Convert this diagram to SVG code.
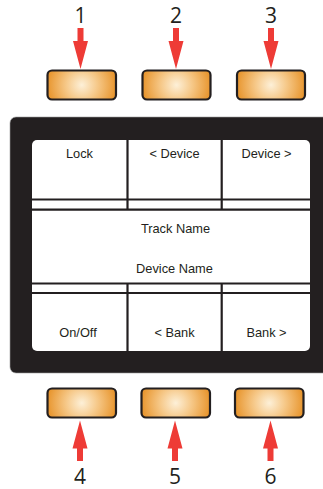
<svg xmlns="http://www.w3.org/2000/svg" width="323" height="489" viewBox="0 0 323 489">
<defs>
<radialGradient id="btnGrad" cx="0.5" cy="0.5" r="0.5" gradientTransform="translate(0.5 0.5) scale(1 2.3) translate(-0.5 -0.5)">
<stop offset="0" stop-color="#fdf0d8"/>
<stop offset="0.45" stop-color="#f6c98a"/>
<stop offset="1" stop-color="#e8962f"/>
</radialGradient>
<style>
.btn{fill:url(#btnGrad);stroke:#231f20;stroke-width:2.2}
.arrow{fill:#ee3b36}
.num{font-family:"Open Sans","Noto Sans",sans-serif;font-size:21px;fill:#231f20;text-anchor:middle}
.lbl{font-family:"Liberation Sans",Arial,sans-serif;font-size:12.8px;fill:#231f20;text-anchor:middle}
.grid{stroke:#231f20;stroke-width:2.2;fill:none}
</style>
</defs>
<rect width="323" height="489" fill="#ffffff"/>
<g id="bezel">
<rect x="10" y="117" width="330" height="256" rx="6" fill="#231f20" stroke="#9a9a9a" stroke-width="0.6"/>
</g>
<g id="screen">
<rect x="32" y="140" width="278" height="211" rx="5" fill="#ffffff"/>
<line class="grid" x1="32" y1="199.5" x2="310" y2="199.5"/>
<line class="grid" x1="32" y1="209.7" x2="310" y2="209.7"/>
<line class="grid" x1="32" y1="283.5" x2="310" y2="283.5"/>
<line class="grid" x1="32" y1="293" x2="310" y2="293"/>
<line class="grid" x1="127.5" y1="140" x2="127.5" y2="209.7"/>
<line class="grid" x1="221.7" y1="140" x2="221.7" y2="209.7"/>
<line class="grid" x1="127.5" y1="283.5" x2="127.5" y2="351"/>
<line class="grid" x1="221.7" y1="283.5" x2="221.7" y2="351"/>
</g>
<g id="label-lock"><text class="lbl" x="79.5" y="157.8">Lock</text></g>
<g id="label-device-prev"><text class="lbl" x="174.5" y="157.8">&lt; Device</text></g>
<g id="label-device-next"><text class="lbl" x="266.5" y="157.8">Device &gt;</text></g>
<g id="label-track-name"><text class="lbl" x="175.5" y="232.7">Track Name</text></g>
<g id="label-device-name"><text class="lbl" x="174.5" y="273.3">Device Name</text></g>
<g id="label-onoff"><text class="lbl" x="78" y="336.7">On/Off</text></g>
<g id="label-bank-prev"><text class="lbl" x="174.5" y="336.7">&lt; Bank</text></g>
<g id="label-bank-next"><text class="lbl" x="266.5" y="336.7">Bank &gt;</text></g>
<g id="button-1"><rect class="btn" x="47.5" y="70.5" width="68.5" height="29" rx="4.5"/></g>
<g id="button-2"><rect class="btn" x="142.5" y="70.5" width="68" height="29" rx="4.5"/></g>
<g id="button-3"><rect class="btn" x="237" y="70.5" width="68" height="29" rx="4.5"/></g>
<g id="button-4"><rect class="btn" x="47.5" y="388.5" width="68.5" height="29" rx="4.5"/></g>
<g id="button-5"><rect class="btn" x="141.5" y="388.5" width="68.5" height="29" rx="4.5"/></g>
<g id="button-6"><rect class="btn" x="235" y="388.5" width="68.5" height="29" rx="4.5"/></g>
<g id="number-1"><text class="num" x="80.5" y="23.3">1</text></g>
<g id="number-2"><text class="num" x="176" y="23.3">2</text></g>
<g id="number-3"><text class="num" x="271" y="23.3">3</text></g>
<g id="number-4"><text class="num" x="80" y="483.5">4</text></g>
<g id="number-5"><text class="num" x="175" y="483.5">5</text></g>
<g id="number-6"><text class="num" x="270.5" y="483.5">6</text></g>
<g id="connectors">
<polygon class="arrow" points="77.5,28 83.5,28 83.5,41 88,41 80.5,69 73,41 77.5,41"/>
<polygon class="arrow" points="173,28 179,28 179,41 183.5,41 176,69 168.5,41 173,41"/>
<polygon class="arrow" points="268,28 274,28 274,41 278.5,41 271,69 263.5,41 268,41"/>
<polygon class="arrow" points="77,461 83,461 83,448.5 87.5,448.5 80,420.5 72.5,448.5 77,448.5"/>
<polygon class="arrow" points="172,461 178,461 178,448.5 182.5,448.5 175,420.5 167.5,448.5 172,448.5"/>
<polygon class="arrow" points="267.5,461 273.5,461 273.5,448.5 278,448.5 270.5,420.5 263,448.5 267.5,448.5"/>
</g>
</svg>
